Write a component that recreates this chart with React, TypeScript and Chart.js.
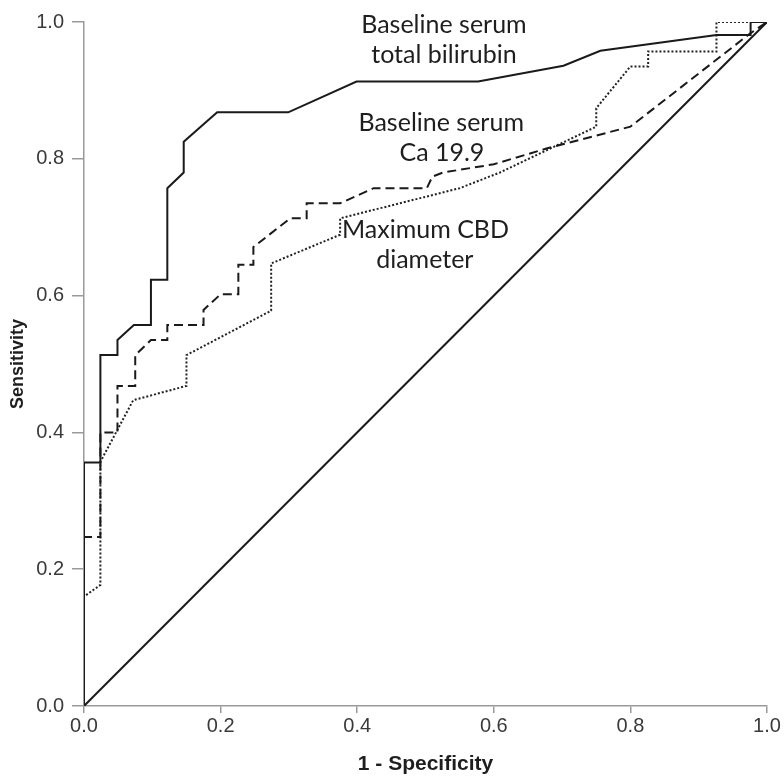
import React, { useEffect, useRef } from "react";
import { Chart, registerables } from "chart.js";
Chart.register(...registerables);

// 1 - Specificity (x) and Sensitivity (y) for each ROC curve
const bilirubinX = [0, 0, 0.024, 0.024, 0.049, 0.049, 0.073, 0.098, 0.098, 0.122, 0.122, 0.146, 0.146, 0.195, 0.299, 0.399, 0.577, 0.702, 0.756, 0.926, 0.976, 0.976, 1];
const bilirubinY = [0, 0.356, 0.356, 0.513, 0.513, 0.535, 0.557, 0.557, 0.623, 0.623, 0.757, 0.78, 0.825, 0.868, 0.868, 0.913, 0.913, 0.936, 0.958, 0.981, 0.981, 1, 1];

const ca199X = [0, 0, 0.024, 0.024, 0.049, 0.049, 0.075, 0.075, 0.098, 0.122, 0.122, 0.175, 0.175, 0.2, 0.226, 0.226, 0.248, 0.248, 0.302, 0.326, 0.326, 0.375, 0.424, 0.502, 0.51, 0.526, 0.6, 0.677, 0.8, 0.975, 1];
const ca199Y = [0, 0.247, 0.247, 0.4, 0.4, 0.468, 0.468, 0.513, 0.535, 0.535, 0.557, 0.557, 0.579, 0.602, 0.602, 0.645, 0.645, 0.671, 0.713, 0.713, 0.735, 0.735, 0.757, 0.757, 0.774, 0.78, 0.792, 0.815, 0.847, 0.983, 1];

const cbdX = [0, 0, 0.024, 0.024, 0.072, 0.15, 0.15, 0.274, 0.274, 0.375, 0.375, 0.55, 0.609, 0.75, 0.75, 0.8, 0.826, 0.826, 0.926, 0.926, 1];
const cbdY = [0, 0.16, 0.177, 0.357, 0.447, 0.468, 0.513, 0.578, 0.647, 0.689, 0.713, 0.757, 0.78, 0.847, 0.874, 0.935, 0.935, 0.957, 0.957, 1, 1];

const referenceX = [0, 1];
const referenceY = [0, 1];

const tickValues = [0, 0.2, 0.4, 0.6, 0.8, 1.0];

// curve labels (text and anchor in data coordinates)
const labelTexts = ["Baseline serum", "total bilirubin", "Baseline serum", "Ca 19.9", "Maximum CBD", "diameter"];
const labelX = [0.527, 0.527, 0.523, 0.524, 0.5, 0.499];
const labelY = [0.996, 0.952, 0.852, 0.808, 0.696, 0.652];

const toPoints = (xs: number[], ys: number[]) => xs.map((x, i) => ({ x, y: ys[i] }));

const labelPlugin = {
  id: "curveLabels",
  afterDraw(chart: any) {
    const { ctx, scales } = chart;
    ctx.save();
    ctx.font = '25px "Lato", "Open Sans", sans-serif';
    ctx.fillStyle = "#1e1e1e";
    ctx.textAlign = "center";
    ctx.textBaseline = "middle";
    labelTexts.forEach((t, i) => {
      ctx.fillText(t, scales.x.getPixelForValue(labelX[i]), scales.y.getPixelForValue(labelY[i]));
    });
    ctx.restore();
  },
};

export default function App() {
  const ref = useRef<HTMLCanvasElement | null>(null);
  useEffect(() => {
    if (!ref.current) return;
    const line = "#1a1a1a";
    const chart = new Chart(ref.current, {
      type: "line",
      data: {
        datasets: [
          { label: "Reference", data: toPoints(referenceX, referenceY), borderColor: line, borderWidth: 2, pointRadius: 0, order: 4 },
          { label: "Maximum CBD diameter", data: toPoints(cbdX, cbdY), borderColor: "#222", borderWidth: 2, borderDash: [2, 2], pointRadius: 0, order: 3 },
          { label: "Baseline serum Ca 19.9", data: toPoints(ca199X, ca199Y), borderColor: line, borderWidth: 2, borderDash: [9, 5], pointRadius: 0, order: 2 },
          { label: "Baseline serum total bilirubin", data: toPoints(bilirubinX, bilirubinY), borderColor: line, borderWidth: 2, pointRadius: 0, order: 1 },
        ],
      },
      options: {
        responsive: false,
        animation: false,
        parsing: false as any,
        layout: { padding: { top: 22, right: 17, left: 0, bottom: 0 } },
        plugins: { legend: { display: false }, tooltip: { enabled: false } },
        elements: { line: { tension: 0, borderCapStyle: "butt", borderJoinStyle: "miter" } },
        scales: {
          x: {
            type: "linear",
            min: 0,
            max: 1,
            afterBuildTicks: (s: any) => { s.ticks = tickValues.map((v) => ({ value: v })); },
            afterFit: (s: any) => { s.height = 74; },
            ticks: {
              callback: (v: any) => Number(v).toFixed(1),
              font: { family: '"Liberation Sans", Arial, sans-serif', size: 20 },
              color: "#3a3a3a",
              padding: 1,
              maxRotation: 0,
            },
            grid: { drawOnChartArea: false, drawTicks: true, tickLength: 7, color: "#9a9a9a", lineWidth: 1.5 },
            border: { display: true, color: "#9a9a9a", width: 1.5 },
            title: {
              display: true,
              text: "1 - Specificity",
              font: { family: '"Liberation Sans", Arial, sans-serif', size: 21, weight: "bold" },
              color: "#1e1e1e",
              padding: { top: 4, bottom: 3 },
            },
          },
          y: {
            type: "linear",
            min: 0,
            max: 1,
            afterBuildTicks: (s: any) => { s.ticks = tickValues.map((v) => ({ value: v })); },
            afterFit: (s: any) => { s.width = 84; },
            ticks: {
              callback: (v: any) => Number(v).toFixed(1),
              font: { family: '"Liberation Sans", Arial, sans-serif', size: 20 },
              color: "#3a3a3a",
              padding: 8,
            },
            grid: { drawOnChartArea: false, drawTicks: true, tickLength: 12, color: "#9a9a9a", lineWidth: 1.5 },
            border: { display: true, color: "#9a9a9a", width: 1.5 },
            title: {
              display: true,
              text: "Sensitivity",
              font: { family: '"Liberation Sans", Arial, sans-serif', size: 18, weight: "bold" },
              color: "#1e1e1e",
              padding: { top: 7, bottom: 4 },
            },
          },
        },
      },
      plugins: [labelPlugin],
    });
    return () => chart.destroy();
  }, []);
  return (
    <div style={{ position: "absolute", left: 0, top: 0, width: 784, height: 780, background: "#fff" }}>
      <canvas ref={ref} width={784} height={780} style={{ display: "block" }} />
    </div>
  );
}
